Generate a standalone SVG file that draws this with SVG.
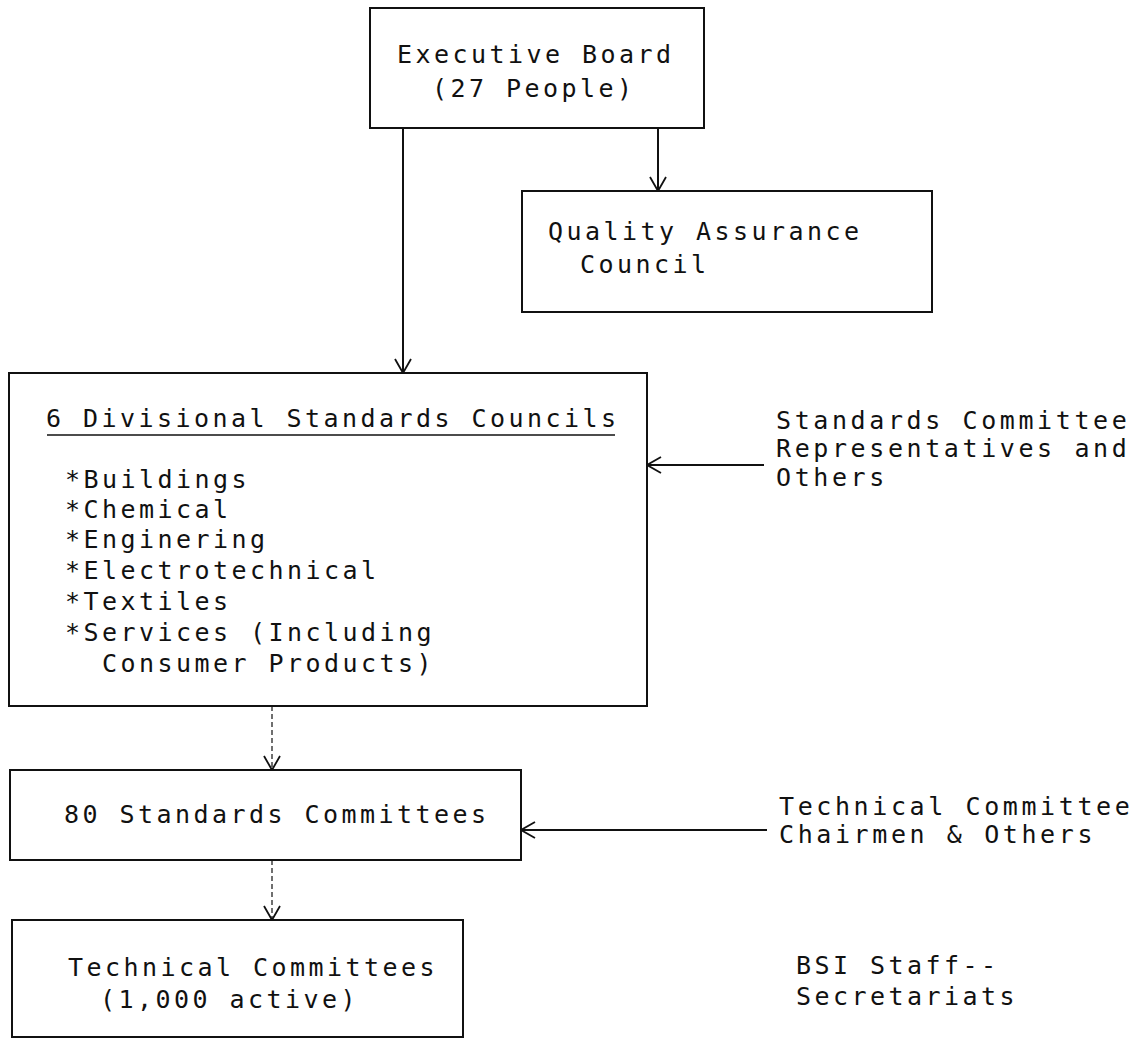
<svg xmlns="http://www.w3.org/2000/svg" width="1135" height="1040" viewBox="0 0 1135 1040">
  <style>
    .box { fill: none; stroke: #111; stroke-width: 2; }
    .t { font-family: "DejaVu Sans Mono", "Liberation Mono", monospace; font-size: 25px; letter-spacing: 3.45px; fill: #111; }
    .tr { font-family: "DejaVu Sans Mono", "Liberation Mono", monospace; font-size: 25px; letter-spacing: 3.6px; fill: #111; }
    .line { fill: none; stroke: #111; stroke-width: 2; }
    .dash { fill: none; stroke: #333; stroke-width: 1.4; stroke-dasharray: 5 3; }
  </style>
  <defs>
    <marker id="arr" viewBox="0 0 16 18" refX="15" refY="9" markerWidth="16" markerHeight="18" orient="auto" markerUnits="userSpaceOnUse">
      <path d="M1,1 L15,9 L1,17" fill="none" stroke="#111" stroke-width="1.8"/>
    </marker>
  </defs>
  <rect width="1135" height="1040" fill="#fff"/>

  <g id="connectors">
    <line class="line" x1="403" y1="128" x2="403" y2="373" marker-end="url(#arr)"/>
    <line class="line" x1="658" y1="128" x2="658" y2="191" marker-end="url(#arr)"/>
    <line class="line" x1="764" y1="465" x2="647" y2="465" marker-end="url(#arr)"/>
    <line class="dash" x1="272" y1="706" x2="272" y2="770" marker-end="url(#arr)"/>
    <line class="line" x1="767" y1="830" x2="521" y2="830" marker-end="url(#arr)"/>
    <line class="dash" x1="272" y1="860" x2="272" y2="920" marker-end="url(#arr)"/>
  </g>

  <g id="executive-board">
    <rect class="box" x="370" y="8" width="334" height="120"/>
    <text class="t" x="397" y="63">Executive Board</text>
    <text class="t" x="432" y="97">(27 People)</text>
  </g>

  <g id="quality-assurance-council">
    <rect class="box" x="522" y="191" width="410" height="121"/>
    <text class="t" x="548" y="240">Quality Assurance</text>
    <text class="t" x="580" y="273">Council</text>
  </g>

  <g id="divisional-councils">
    <rect class="box" x="9" y="373" width="638" height="333"/>
    <text class="t" x="46" y="427">6 Divisional Standards Councils</text>
    <line x1="47" y1="435" x2="615" y2="435" stroke="#111" stroke-width="1.6"/>
    <text class="t" x="65" y="488">*Buildings</text>
    <text class="t" x="65" y="518">*Chemical</text>
    <text class="t" x="65" y="548">*Enginering</text>
    <text class="t" x="65" y="579">*Electrotechnical</text>
    <text class="t" x="65" y="610">*Textiles</text>
    <text class="t" x="65" y="641">*Services (Including</text>
    <text class="t" x="102" y="672">Consumer Products)</text>
  </g>

  <g id="sc-representatives">
    <text class="tr" x="776" y="429">Standards Committee</text>
    <text class="tr" x="776" y="457">Representatives and</text>
    <text class="tr" x="776" y="486">Others</text>
  </g>

  <g id="standards-committees">
    <rect class="box" x="10" y="770" width="511" height="90"/>
    <text class="t" x="64" y="823">80 Standards Committees</text>
  </g>

  <g id="tc-chairmen">
    <text class="tr" x="779" y="815">Technical Committee</text>
    <text class="tr" x="779" y="843">Chairmen &amp; Others</text>
  </g>

  <g id="technical-committees">
    <rect class="box" x="12" y="920" width="451" height="117"/>
    <text class="t" x="68" y="976">Technical Committees</text>
    <text class="t" x="100" y="1008">(1,000 active)</text>
  </g>

  <g id="bsi-staff">
    <text class="t" x="796" y="974">BSI Staff--</text>
    <text class="t" x="796" y="1005">Secretariats</text>
  </g>
</svg>
